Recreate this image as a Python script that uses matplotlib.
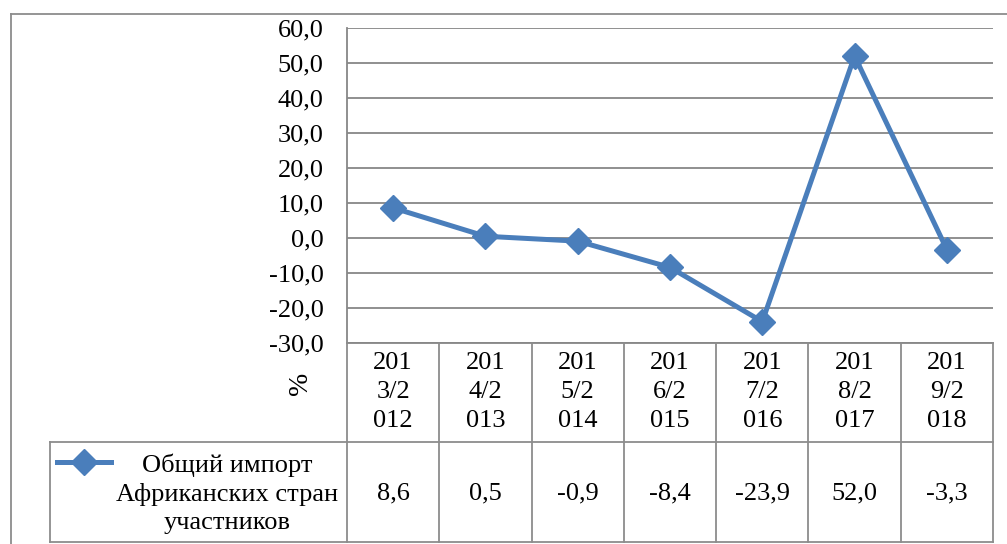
import matplotlib
matplotlib.use("Agg")
import matplotlib.pyplot as plt
from matplotlib.lines import Line2D
from matplotlib.transforms import blended_transform_factory

categories = ["201\n3/2\n012", "201\n4/2\n013", "201\n5/2\n014", "201\n6/2\n015",
              "201\n7/2\n016", "201\n8/2\n017", "201\n9/2\n018"]
values = [8.6, 0.5, -0.9, -8.4, -23.9, 52.0, -3.3]
value_labels = ["8,6", "0,5", "-0,9", "-8,4", "-23,9", "52,0", "-3,3"]
series_name = "Общий импорт\nАфриканских стран\nучастников"
y_ticks = [-30, -20, -10, 0, 10, 20, 30, 40, 50, 60]
y_label = "%"

W, H = 1007, 544
plt.rcParams['font.family'] = ['Liberation Serif', 'DejaVu Serif']
FS = 19
fig = plt.figure(figsize=(W / 100, H / 100), dpi=100)

def fx(x):
    return x / W

def fy(y):
    return 1 - y / H

L, R, T, B = 347, 993, 28, 343
ax = fig.add_axes([fx(L), fy(B), fx(R) - fx(L), fy(T) - fy(B)])
n = len(values)
ax.set_xlim(-0.5, n - 0.5)
ax.set_ylim(-30, 60)
ax.set_yticks(y_ticks)
ax.set_yticklabels([f"{v:.1f}".replace(".", ",") for v in y_ticks], fontsize=FS)
ax.set_xticks([])
ax.tick_params(axis='y', length=0, pad=17)
for s in ['top', 'right']:
    ax.spines[s].set_visible(False)
grid_c = "#878787"
ax.spines['left'].set_color(grid_c)
ax.spines['left'].set_linewidth(1.3)
ax.spines['bottom'].set_color(grid_c)
ax.spines['bottom'].set_linewidth(1.3)
ax.yaxis.grid(True, color=grid_c, linewidth=1.3)
ax.set_axisbelow(True)

line_c = "#4A7EBB"
LW = 3.6
MS = 13
ax.plot(range(n), values, color=line_c, linewidth=LW, marker='D', markersize=MS,
        markerfacecolor=line_c, markeredgecolor=line_c, clip_on=False, zorder=3)

# y-axis title
fig.text(fx(300), fy(383), y_label, rotation=90, fontsize=FS + 1, ha='center', va='center')

# outer frame
frame_c = "#8c8c8c"
fig.add_artist(Line2D([fx(11), 1.0], [fy(14), fy(14)], color=frame_c, linewidth=1.3))
fig.add_artist(Line2D([fx(11), fx(11)], [fy(14), 0], color=frame_c, linewidth=1.3))

# table
trans = blended_transform_factory(ax.transData, fig.transFigure)
tab_c = "#8c8c8c"
row1_bottom = 442
row2_bottom = 542
for i in range(n + 1):
    xb = i - 0.5
    fig.add_artist(Line2D([xb, xb], [fy(B), fy(row2_bottom)], color=tab_c, linewidth=1.3,
                          transform=trans))
fig.add_artist(Line2D([fx(50), fx(R)], [fy(row1_bottom), fy(row1_bottom)], color=tab_c, linewidth=1.3))
fig.add_artist(Line2D([fx(50), fx(R)], [fy(row2_bottom), fy(row2_bottom)], color=tab_c, linewidth=1.3))
fig.add_artist(Line2D([fx(50), fx(50)], [fy(row1_bottom), fy(row2_bottom)], color=tab_c, linewidth=1.3))

for i, (cat, vl) in enumerate(zip(categories, value_labels)):
    fig.text(i, fy(392), cat, transform=trans, ha='center', va='center', fontsize=FS,
             linespacing=1.4)
    fig.text(i, fy(493), vl, transform=trans, ha='center', va='center', fontsize=FS)

# legend key
fig.add_artist(Line2D([fx(57), fx(111)], [fy(462), fy(462)], color=line_c, linewidth=LW))
fig.add_artist(Line2D([fx(84)], [fy(462)], color=line_c, marker='D', markersize=MS,
                      markerfacecolor=line_c, markeredgecolor=line_c))
fig.text(fx(227), fy(494), series_name, ha='center', va='center', fontsize=FS, linespacing=1.35)

fig.savefig("out.png", dpi=100, facecolor="white")
